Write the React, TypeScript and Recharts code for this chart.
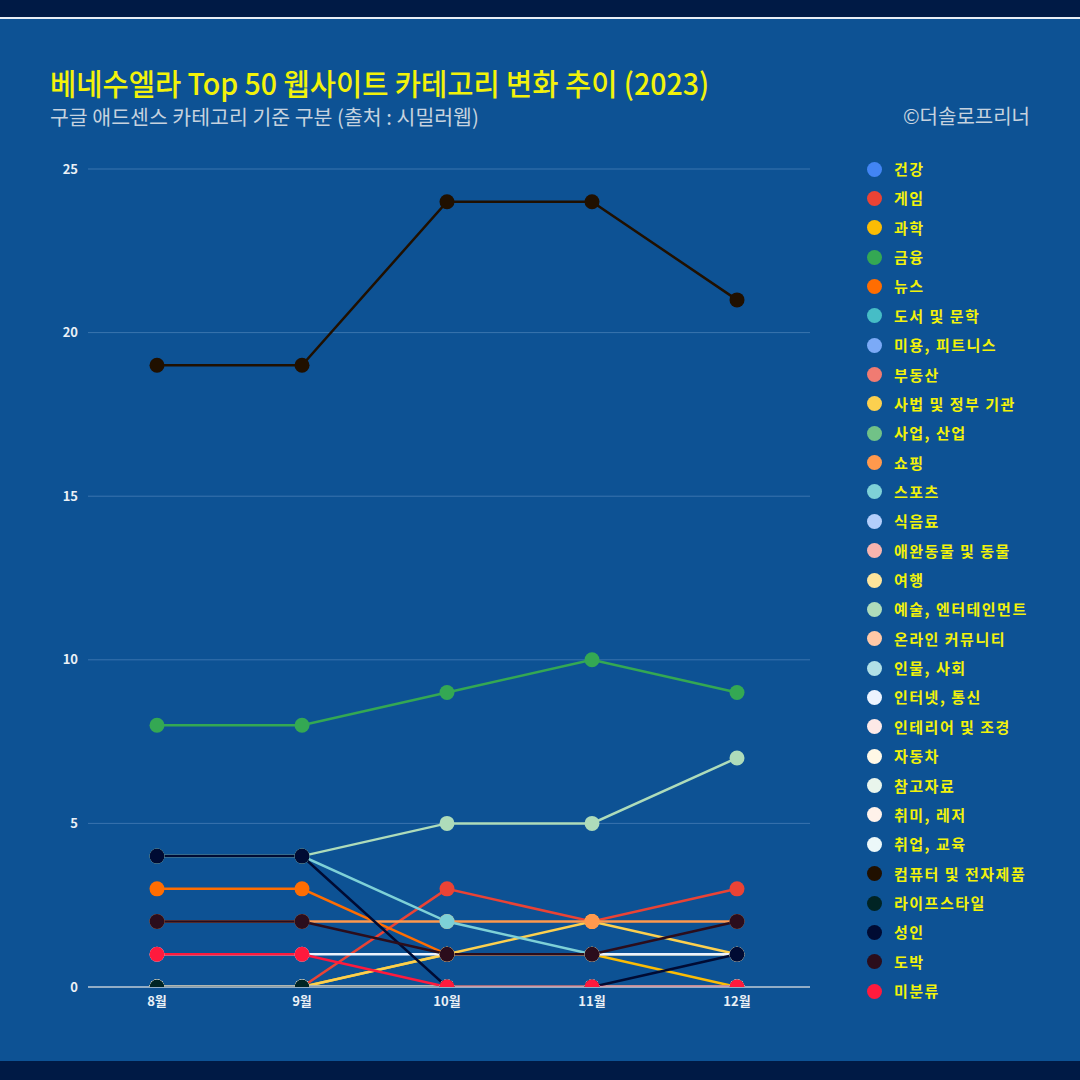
import React from 'react';
import { LineChart, Line, XAxis, YAxis, CartesianGrid } from 'recharts';

const months = ['8월', '9월', '10월', '11월', '12월'];
const yTicks = [0, 5, 10, 15, 20, 25];

const categories = [
  '건강', '게임', '과학', '금융', '뉴스', '도서 및 문학', '미용, 피트니스', '부동산',
  '사법 및 정부 기관', '사업, 산업', '쇼핑', '스포츠', '식음료', '애완동물 및 동물', '여행',
  '예술, 엔터테인먼트', '온라인 커뮤니티', '인물, 사회', '인터넷, 통신', '인테리어 및 조경',
  '자동차', '참고자료', '취미, 레저', '취업, 교육', '컴퓨터 및 전자제품', '라이프스타일',
  '성인', '도박', '미분류',
];

const colors = [
  '#4285F4', '#EA4335', '#FBBC04', '#34A853', '#FF6D01', '#46BDC6', '#7BAAF7', '#F07B72',
  '#FCD04F', '#71C287', '#FF994D', '#7ED1D7', '#B3CEFB', '#F7B4AE', '#FDE49B',
  '#AEDCBA', '#FFC8A6', '#B1E0E6', '#ECF3FE', '#FDE9E7',
  '#FFF8E6', '#E9F5EC', '#FFF2EA', '#ECF8F9', '#201000', '#002424',
  '#000B33', '#2B0D1C', '#FF1A3D',
];

// monthly counts per category, 8월..12월
const health = [0, 0, 0, 0, 0];
const game = [0, 0, 3, 2, 3];
const science = [0, 0, 1, 1, 0];
const finance = [8, 8, 9, 10, 9];
const news = [3, 3, 1, 1, 1];
const books = [0, 0, 0, 0, 0];
const beauty = [0, 0, 0, 0, 0];
const realEstate = [0, 0, 0, 0, 0];
const government = [0, 0, 1, 2, 1];
const business = [0, 0, 0, 0, 0];
const shopping = [2, 2, 2, 2, 2];
const sports = [4, 4, 2, 1, 1];
const food = [0, 0, 0, 0, 0];
const pets = [0, 0, 0, 0, 0];
const travel = [0, 0, 0, 0, 0];
const arts = [4, 4, 5, 5, 7];
const community = [0, 0, 0, 0, 0];
const people = [0, 0, 0, 0, 0];
const internet = [1, 1, 1, 1, 1];
const interior = [0, 0, 0, 0, 0];
const autos = [0, 0, 0, 0, 0];
const reference = [0, 0, 0, 0, 0];
const hobbies = [0, 0, 0, 0, 0];
const jobs = [0, 0, 0, 0, 0];
const computers = [19, 19, 24, 24, 21];
const lifestyle = [0, 0, 0, 0, 0];
const adult = [4, 4, 0, 0, 1];
const gambling = [2, 2, 1, 1, 2];
const unknown = [1, 1, 0, 0, 0];

const seriesValues = [
  health, game, science, finance, news, books, beauty, realEstate, government, business,
  shopping, sports, food, pets, travel, arts, community, people, internet, interior,
  autos, reference, hobbies, jobs, computers, lifestyle, adult, gambling, unknown,
];

const data = months.map((month, i) => {
  const row: Record<string, string | number> = { month };
  seriesValues.forEach((vals, s) => {
    row[`s${s}`] = vals[i];
  });
  return row;
});

const FONT = '"Noto Sans CJK KR", "Noto Sans", sans-serif';

export default function App() {
  return (
    <div
      style={{
        position: 'absolute',
        left: 0,
        top: 0,
        width: 1080,
        height: 1080,
        background: '#0D5294',
        fontFamily: FONT,
        overflow: 'hidden',
      }}
    >
      <div style={{ position: 'absolute', left: 0, top: 0, width: 1080, height: 17, background: '#001A45' }} />
      <div style={{ position: 'absolute', left: 0, top: 17, width: 1080, height: 2, background: '#E8EEF6' }} />
      <div style={{ position: 'absolute', left: 0, top: 1061, width: 1080, height: 19, background: '#001A45' }} />

      <div
        style={{
          position: 'absolute',
          left: 50,
          top: 63,
          fontSize: 30,
          fontWeight: 500,
          color: '#F2F20A',
          whiteSpace: 'nowrap',
          transform: 'scaleX(0.95)',
          transformOrigin: 'left top',
          lineHeight: '38px',
        }}
      >
        베네수엘라 Top 50 웹사이트 카테고리 변화 추이 (2023)
      </div>
      <div
        style={{
          position: 'absolute',
          left: 50,
          top: 103,
          fontSize: 20.5,
          color: '#C6D2DF',
          whiteSpace: 'nowrap',
          lineHeight: '26px',
        }}
      >
        구글 애드센스 카테고리 기준 구분 (출처 : 시밀러웹)
      </div>
      <div
        style={{
          position: 'absolute',
          right: 50,
          top: 103,
          fontSize: 20,
          color: '#C6D2DF',
          whiteSpace: 'nowrap',
          lineHeight: '26px',
        }}
      >
        ©더솔로프리너
      </div>

      <div style={{ position: 'absolute', left: 0, top: 0 }}>
        <LineChart
          width={1080}
          height={1080}
          data={data}
          margin={{ top: 169, right: 270, bottom: 63, left: 48 }}
        >
          <CartesianGrid horizontal vertical={false} stroke="#3A74AE" strokeWidth={1} />
          <XAxis
            dataKey="month"
            height={30}
            padding={{ left: 69, right: 73 }}
            tickLine={false}
            axisLine={{ stroke: '#B9C6D3', strokeWidth: 1.5 }}
            tickMargin={4}
            tick={{ fill: '#EAF0F6', fontSize: 13, fontWeight: 700, fontFamily: FONT }}
          />
          <YAxis
            width={40}
            domain={[0, 25]}
            ticks={yTicks}
            allowDataOverflow
            axisLine={false}
            tickLine={false}
            tickMargin={4}
            tick={{ fill: '#EAF0F6', fontSize: 13, fontWeight: 700, fontFamily: FONT }}
          />
          {categories.map((name, s) => (
            <Line
              key={name}
              name={name}
              type="linear"
              dataKey={`s${s}`}
              stroke={colors[s]}
              strokeWidth={2.5}
              dot={{ r: 7.5, fill: colors[s], stroke: colors[s], strokeWidth: 0 }}
              activeDot={false}
              isAnimationActive={false}
            />
          ))}
        </LineChart>
      </div>

      {categories.map((name, s) => (
        <div
          key={name}
          style={{
            position: 'absolute',
            left: 867,
            top: 169 + s * 29.36 - 10,
            height: 20,
            display: 'flex',
            alignItems: 'center',
            whiteSpace: 'nowrap',
          }}
        >
          <span
            style={{
              width: 15,
              height: 15,
              borderRadius: '50%',
              background: colors[s],
              display: 'inline-block',
            }}
          />
          <span
            style={{
              marginLeft: 12,
              fontSize: 15,
              fontWeight: 700,
              letterSpacing: 1.5,
              color: '#F2F20A',
              lineHeight: '20px',
            }}
          >
            {name}
          </span>
        </div>
      ))}
    </div>
  );
}
